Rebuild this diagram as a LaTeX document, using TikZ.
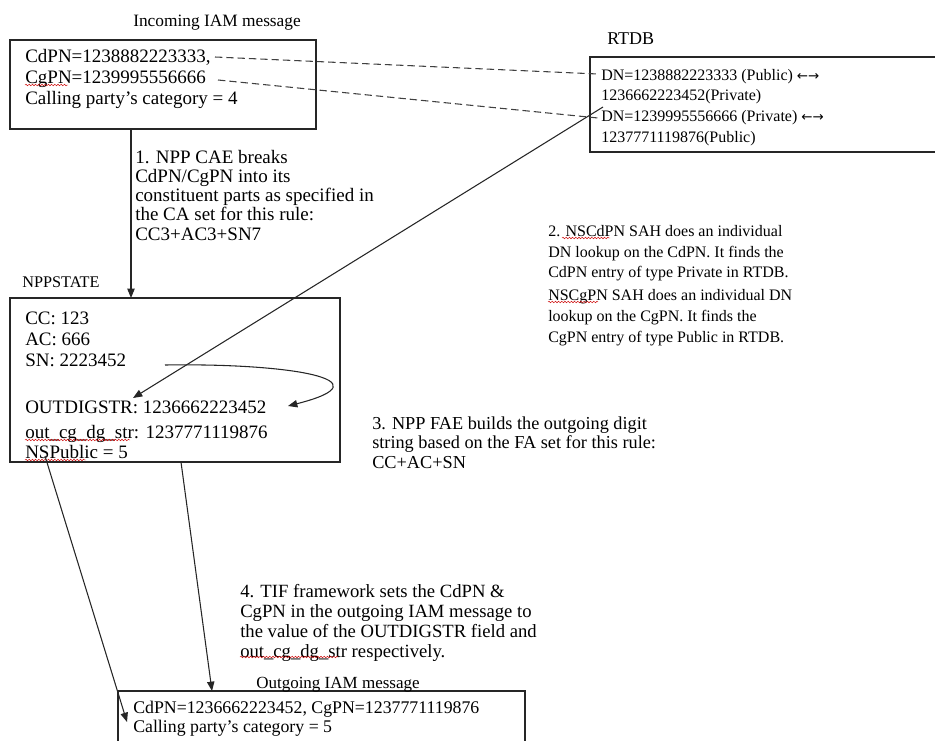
\documentclass[tikz,border=0pt]{standalone}
\usepackage{fontspec}
\setmainfont{Liberation Serif}
\newfontfamily\arrowfont{DejaVu Sans}
\usetikzlibrary{arrows.meta,fit,decorations.pathmorphing}
\begin{document}
\begin{tikzpicture}[x=0.75pt,y=-0.75pt,
  txt/.style={inner sep=0pt, anchor=base west, align=left},
  box/.style={draw=black!85, line width=1pt, inner sep=0pt},
  arr/.style={-{Triangle[length=7pt,width=5.5pt]}, line width=0.8pt, draw=black!85},
  dashline/.style={line width=0.8pt, draw=black!75, dash pattern=on 5.5pt off 3pt},
  squig/.style={draw=red!80!black, line width=0.35pt, decorate, decoration={snake, amplitude=0.6pt, segment length=2.4pt}}]
\useasboundingbox (0,0) rectangle (935,740);

% boxes
\coordinate (inNW) at (10,40);  \coordinate (inSE) at (316,129);
\node[box, fit=(inNW)(inSE)] (inbox) {};
\coordinate (rtNW) at (590,57); \coordinate (rtSE) at (960,152);
\node[box, fit=(rtNW)(rtSE)] (rtdb) {};
\coordinate (npNW) at (10,298); \coordinate (npSE) at (340,462);
\node[box, fit=(npNW)(npSE)] (npp) {};
\coordinate (ouNW) at (118,691); \coordinate (ouSE) at (525,780);
\node[box, fit=(ouNW)(ouSE)] (outbox) {};

% titles
\node[txt, font=\fontsize{13}{15}\selectfont] (tin) at (133,26.5) {Incoming IAM message};
\node[txt, font=\fontsize{13.5}{15}\selectfont] (trt) at (607,44) {RTDB};
\node[txt, font=\fontsize{12.2}{15}\selectfont] (tnp) at (22,287) {NPPSTATE};
\node[txt, font=\fontsize{12.75}{15}\selectfont] (tou) at (256,688) {Outgoing IAM message};

% box texts
\node[txt, font=\fontsize{14.25}{15.4}\selectfont] (intext) at (25,104)
  {CdPN=1238882223333,\\CgPN=1239995556666\\Calling party’s category = 4};
\node[txt, font=\fontsize{12}{15.5}\selectfont] (rttext) at (601,142)
  {DN=1238882223333 (Public) {\arrowfont\fontsize{10}{12}\selectfont ←→}\\1236662223452(Private)\\DN=1239995556666 (Private) {\arrowfont\fontsize{10}{12}\selectfont ←→}\\1237771119876(Public)};
\node[txt, font=\fontsize{14.25}{15.75}\selectfont] (nptext) at (25,458)
  {CC: 123\\AC: 666\\SN: 2223452\\[19.5pt]OUTDIGSTR: 1236662223452\\[3pt]out\_cg\_dg\_str: 1237771119876\\[-0.75pt]NSPublic = 5};
\node[txt, font=\fontsize{13.35}{15}\selectfont] (outa) at (133,713) {CdPN=1236662223452, CgPN=1237771119876};
\node[txt, font=\fontsize{13.35}{15}\selectfont] (outb) at (133,732) {Calling party’s category = 5};

% step labels
\node[txt, font=\fontsize{14.25}{14.4}\selectfont] (lab1) at (135,240)
  {1. NPP CAE breaks\\CdPN/CgPN into its\\constituent parts as specified in\\the CA set for this rule:\\CC3+AC3+SN7};
\node[txt, font=\fontsize{12}{15.4}\selectfont] (lab2) at (548,342)
  {2. NSCdPN SAH does an individual\\DN lookup on the CdPN. It finds the\\CdPN entry of type Private in RTDB.\\[2pt]NSCgPN SAH does an individual DN\\lookup on the CgPN. It finds the\\CgPN entry of type Public in RTDB.};
\node[txt, font=\fontsize{13.7}{14.6}\selectfont] (lab3) at (372,468)
  {3. NPP FAE builds the outgoing digit\\string based on the FA set for this rule:\\CC+AC+SN};
\node[txt, font=\fontsize{14}{14.8}\selectfont] (lab4) at (240,657)
  {4. TIF framework sets the CdPN \&\\CgPN in the outgoing IAM message to\\the value of the OUTDIGSTR field and\\out\_cg\_dg\_str respectively.};

% spell-check underlines shown in the picture
\draw[squig] (25,85) -- (68,85);
\draw[squig] (25,440) -- (130,440);
\draw[squig] (25,460) -- (86,460);
\draw[squig] (562,238) -- (610,238);
\draw[squig] (548,302) -- (598,302);
\draw[squig] (240,657) -- (338,657);

% connector end points
\coordinate (d1s) at (215,57);  \coordinate (d1e) at (598,74);
\coordinate (d2s) at (218,80);  \coordinate (d2e) at (598,118);
\coordinate (rtfrom) at (603,107); \coordinate (outdig) at (133,398);
\coordinate (snend) at (165,365);  \coordinate (outdigr) at (288,406);
\coordinate (a1s) at (131,129);    \coordinate (a1e) at (131,298);
\coordinate (nspub) at (45,456);   \coordinate (cat5) at (127,722);
\coordinate (npbot) at (181,462);  \coordinate (outtop) at (212,691);

\draw[dashline] (d1s) -- (d1e);
\draw[dashline] (d2s) -- (d2e);
\draw[arr] (rtfrom) -- (outdig);
\draw[arr] (a1s) -- (a1e);
\draw[arr] (snend) .. controls (290,363) and (390,380) .. (outdigr);
\draw[arr] (nspub) -- (cat5);
\draw[arr] (npbot) -- (outtop);
\end{tikzpicture}
\end{document}
